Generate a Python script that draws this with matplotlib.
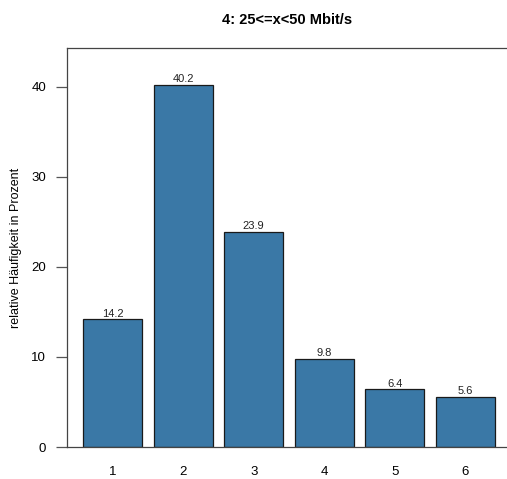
import matplotlib.pyplot as plt
import numpy as np

plt.rcParams['font.family'] = ['Liberation Sans', 'DejaVu Sans']

# data
categories = ['1', '2', '3', '4', '5', '6']
values = [14.2, 40.2, 23.9, 9.8, 6.4, 5.6]
y_ticks = [0, 10, 20, 30, 40]

fig = plt.figure(figsize=(5.07, 4.79), dpi=100)
ax = fig.add_axes([0.132, 0.0668, 0.878, 0.833])

x = np.arange(1, len(categories) + 1)
ax.bar(x, values, width=0.835, color='#3a78a6', edgecolor='#1a1a1a', linewidth=0.9)

for xi, v in zip(x, values):
    ax.text(xi, v + 0.05, '%.1f' % v, ha='center', va='bottom', fontsize=8, color='#222222')

ax.set_xlim(1 - 0.645, 6 + 0.66)
ax.set_ylim(0, 44.3)
ax.set_xticks(x)
ax.set_xticklabels(categories)
ax.set_yticks(y_ticks)

ax.tick_params(axis='x', length=0, pad=14, labelsize=9.5)
ax.tick_params(axis='y', length=8, width=0.9, color='#555555', labelsize=9.5, pad=7)

for s in ['left', 'top', 'bottom', 'right']:
    ax.spines[s].set_color('#444444')
    ax.spines[s].set_linewidth(0.9)

ax.set_ylabel('relative Häufigkeit in Prozent', fontsize=9)
ax.yaxis.set_label_coords(-0.1, 0.5)
fig.text(0.567, 0.958, '4: 25<=x<50 Mbit/s', ha='center', va='center',
         fontsize=10.5, fontweight='bold')

fig.savefig('out.png', dpi=100)
